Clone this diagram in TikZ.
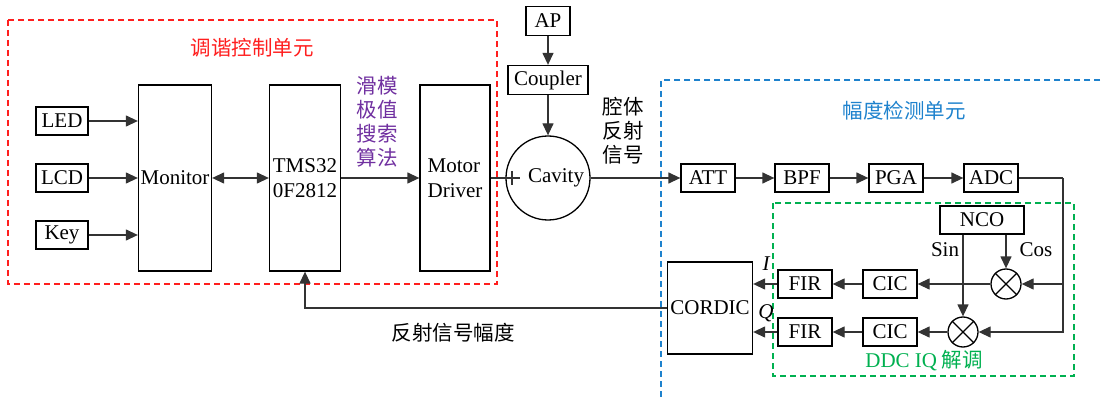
\documentclass[tikz,border=0pt]{standalone}
\usepackage{fontspec}
\setmainfont{Liberation Serif}
\newfontfamily\cjk{Noto Sans CJK SC}
\usetikzlibrary{arrows.meta}
\definecolor{tunered}{RGB}{255,30,30}
\definecolor{algopurple}{RGB}{112,48,160}
\definecolor{detblue}{RGB}{30,130,205}
\definecolor{ddcgreen}{RGB}{0,176,80}

\begin{document}
\begin{tikzpicture}[x=1pt,y=-1pt,
	font=\fontsize{21}{25}\selectfont,
	blk/.style={ draw, line width=1.3pt, inner sep=0pt, minimum height=28pt },
	tall/.style={ blk, minimum height=186pt },
	mix/.style={ circle, draw, line width=1.3pt, inner sep=0pt, minimum size=30pt },
	wire/.style={ line width=1.3pt, black!80 },
	arr/.style={ wire, -{Triangle[length=12pt,width=11pt]} },
	region/.style={ line width=1.1pt, dash pattern=on 6pt off 4pt },
	cn/.style={ font=\cjk\fontsize{20.5}{24}\selectfont, align=center }
]
\useasboundingbox (0,0) rectangle (1101,401);

% regions
\draw[region, tunered] (8,20) rectangle (497,284);
\draw[region, detblue] (1110,80) -- (661,80) -- (661,410);
\draw[region, ddcgreen] (773,203) rectangle (1074,376);
\node at (252,48) (tunetitle) [cn, text=tunered] {调谐控制单元};
\node at (904,111) (dettitle) [cn, text=detblue] {幅度检测单元};
\node at (924,361) (ddctitle) [cn, text=ddcgreen] {{\rmfamily\fontsize{21}{24}\selectfont DDC IQ} 解调};

% tuning control unit
\node at (62,121) (led) [blk, minimum width=52pt] {LED};
\node at (62,178) (lcd) [blk, minimum width=52pt] {LCD};
\node at (62,235) (key) [blk, minimum width=52pt] {Key};
\node at (175,178) (mon) [tall, minimum width=73pt] {Monitor};
\node at (305,178) (tms) [tall, minimum width=71pt, align=center] {TMS32\\0F2812};
\node at (455,178) (drv) [tall, minimum width=70pt, align=left] {Motor\\Driver};
\node at (377,122) (algo) [cn, text=algopurple] {滑模\\极值\\搜索\\算法};
\foreach \p in {led,lcd,key}
  \draw[arr] (\p.east) -- (mon.west |- \p.east);
\draw[arr, {Triangle[length=12pt,width=11pt]}-{Triangle[length=12pt,width=11pt]}] (mon.east) -- (tms.west);
\draw[arr] (tms.east) -- (drv.west);

% cavity
\node at (548,21) (ap) [blk, minimum width=44pt, minimum height=29pt] {AP};
\node at (548,80) (coupler) [blk, minimum width=80pt, minimum height=29pt] {Coupler};
\node at (548,178) (cavity) [circle, draw, line width=1.3pt, minimum size=84pt] {};
\node at (556,178) (cavtxt) {Cavity};
\coordinate (cavin) at (520,178);
\coordinate (tickt) at (512,171);
\coordinate (tickb) at (512,185);
\draw[arr] (ap) -- (coupler);
\draw[arr] (coupler) -- (cavity.north);
\draw[wire] (drv.east) -- (cavin);
\draw[wire] (tickt) -- (tickb);
\node at (623,131) (refl) [cn] {腔体\\反射\\信号};

% amplitude detection unit
\node at (708,178) (att) [blk, minimum width=54pt] {ATT};
\node at (802,178) (bpf) [blk, minimum width=54pt] {BPF};
\node at (896,178) (pga) [blk, minimum width=54pt] {PGA};
\node at (991,178) (adc) [blk, minimum width=54pt] {ADC};
\draw[arr] (cavity.east) -- (att.west);
\draw[arr] (att) -- (bpf);
\draw[arr] (bpf) -- (pga);
\draw[arr] (pga) -- (adc);

% DDC
\node at (982,220) (nco) [blk, minimum width=84pt] {NCO};
\node at (1006,284) (mixi) [mix] {};
\node at (963,332) (mixq) [mix] {};
\foreach \m in {mixi,mixq}
  \draw[line width=1.1pt] (\m.45) -- (\m.225) (\m.135) -- (\m.315);
\node at (890,284) (cici) [blk, minimum width=54pt] {CIC};
\node at (890,332) (cicq) [blk, minimum width=54pt] {CIC};
\node at (805,284) (firi) [blk, minimum width=54pt] {FIR};
\node at (805,332) (firq) [blk, minimum width=54pt] {FIR};
\node at (710,308) (cordic) [blk, minimum width=85pt, minimum height=92pt] {CORDIC};
\coordinate (adcr) at (1063,178);
\draw[wire] (adc.east) -- (adcr);
\draw[arr] (adcr) |- (mixq.east);
\draw[arr] (mixi.east -| adcr) -- (mixi.east);
\draw[arr] (nco.south -| mixq) -- (mixq.north);
\draw[arr] (nco.south -| mixi) -- (mixi.north);
\node at (945,250) (sinlbl) {Sin};
\node at (1036,250) (coslbl) {Cos};
\draw[arr] (mixi) -- (cici);
\draw[arr] (mixq) -- (cicq);
\draw[arr] (cici) -- (firi);
\draw[arr] (cicq) -- (firq);
\draw[arr] (firi.west) -- (cordic.east |- firi.west);
\draw[arr] (firq.west) -- (cordic.east |- firq.west);
\node at (766,264) (ilbl) {\itshape I};
\node at (766,313) (qlbl) {\itshape Q};

% feedback
\draw[arr] (cordic.west) -| (tms.south);
\node at (453,333) (fbk) [cn] {反射信号幅度};

\end{tikzpicture}
\end{document}
